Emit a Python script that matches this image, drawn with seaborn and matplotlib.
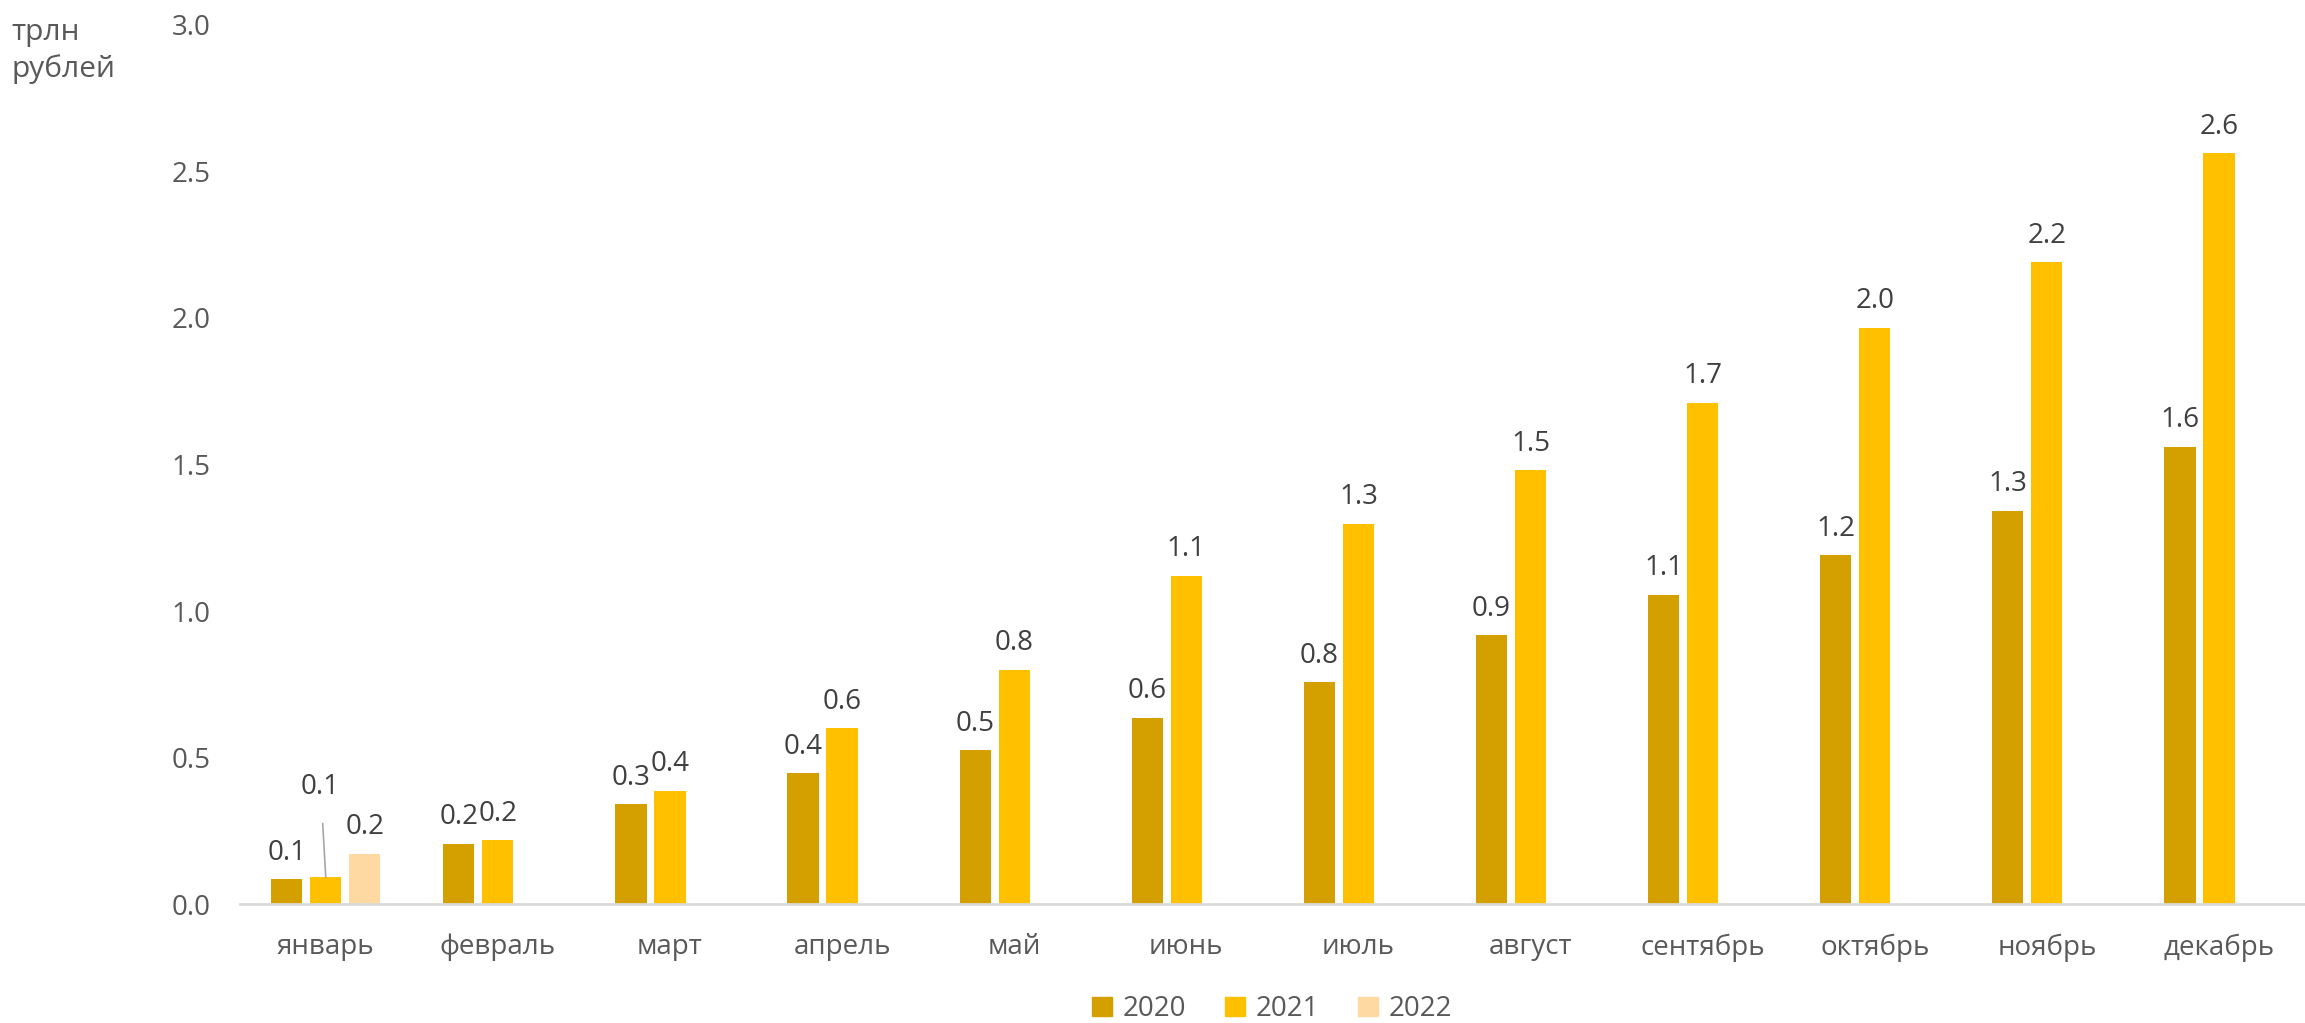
import matplotlib
matplotlib.use("Agg")
import matplotlib.pyplot as plt
import matplotlib.patches as mpatches
import pandas as pd
import seaborn as sns

months = ["январь", "февраль", "март", "апрель", "май", "июнь",
          "июль", "август", "сентябрь", "октябрь", "ноябрь", "декабрь"]
years = ["2020", "2021", "2022"]
vals_2020 = [0.085, 0.205, 0.341, 0.447, 0.525, 0.636, 0.757, 0.918, 1.056, 1.19, 1.342, 1.561]
vals_2021 = [0.091, 0.217, 0.387, 0.60, 0.80, 1.12, 1.298, 1.481, 1.71, 1.966, 2.19, 2.562]
vals_2022 = [0.171]
colors = ["#D4A000", "#FFC000", "#FFD9A1"]

rows = []
for m, v in zip(months, vals_2020):
    rows.append((m, "2020", v))
for m, v in zip(months, vals_2021):
    rows.append((m, "2021", v))
for m, v in zip(months, vals_2022):
    rows.append((m, "2022", v))
df = pd.DataFrame(rows, columns=["month", "year", "value"])

sns.set_theme(style="white")
plt.rcParams["font.family"] = ["Open Sans", "DejaVu Sans"]

fig = plt.figure(figsize=(23.05, 10.23), dpi=100)
ax = fig.add_axes([0.104, 0.1163, 0.896, 0.8593])

sns.barplot(data=df, x="month", y="value", hue="year", order=months,
            hue_order=years, palette=colors, width=0.68, gap=0.2,
            saturation=1, linewidth=0, legend=False, ax=ax)

ax.set_ylim(0, 3.0)
ax.set_yticks([0, 0.5, 1.0, 1.5, 2.0, 2.5, 3.0])
ax.set_yticklabels([f"{t:.1f}" for t in ax.get_yticks()])
ax.set_xlabel("")
ax.set_ylabel("")
for s in ["top", "right", "left"]:
    ax.spines[s].set_visible(False)
ax.spines["bottom"].set_color("#d9d9d9")
ax.spines["bottom"].set_linewidth(2)
ax.tick_params(axis="both", length=0, labelsize=20, labelcolor="#595959")
ax.tick_params(axis="y", pad=21)
ax.tick_params(axis="x", pad=21)

lab_kw = dict(fontsize=20, color="#404040", padding=9)
c20, c21, c22 = ax.containers[:3]
ax.bar_label(c20, labels=[f"{v:.1f}" for v in vals_2020], **lab_kw)
ax.bar_label(c21, labels=[""] + [f"{v:.1f}" for v in vals_2021[1:]], **lab_kw)
ax.bar_label(c22, labels=[f"{v:.1f}" for v in vals_2022], **lab_kw)

# январь 2021: label pulled up with a leader line
b = c21[0]
bx = b.get_x() + b.get_width() / 2
ax.annotate(f"{vals_2021[0]:.1f}", xy=(bx, vals_2021[0]), xytext=(bx - 0.03, 0.40),
            ha="center", va="center", fontsize=20, color="#404040",
            arrowprops=dict(arrowstyle="-", color="#a6a6a6", lw=1.2,
                            shrinkA=14, shrinkB=0))

fig.text(0.005, 0.95, "трлн\nрублей", ha="left", va="center", fontsize=21.5,
         color="#595959", linespacing=1.3)

handles = [mpatches.Patch(color=c, label=y) for c, y in zip(colors, years)]
fig.legend(handles=handles, loc="center", bbox_to_anchor=(0.552, 0.0137),
           ncol=3, frameon=False, fontsize=20, labelcolor="#595959",
           handlelength=0.7, handleheight=0.7, handletextpad=0.4,
           columnspacing=1.4)

fig.savefig("out.png", dpi=100)
